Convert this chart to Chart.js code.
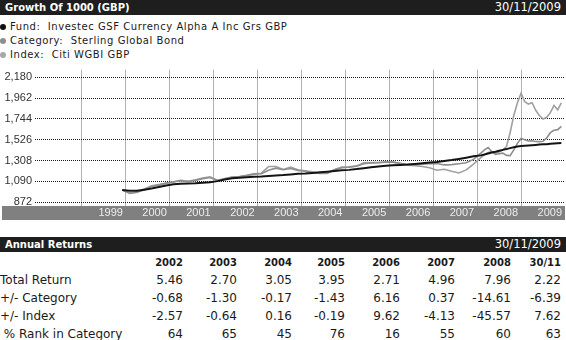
<!DOCTYPE html>
<html>
<head>
<meta charset="utf-8">
<script src="https://cdn.jsdelivr.net/npm/chart.js@4.4.0/dist/chart.umd.min.js"></script>
<style>
  html, body { margin: 0; padding: 0; background: #fff; }
  body { width: 566px; height: 340px; position: relative; overflow: hidden;
         font-family: "DejaVu Sans", Verdana, sans-serif; color: #1a1a1a; }
  .bar { position: absolute; left: 0; width: 566px; height: 15px; background: #1e1e1e; color: #fff; }
  .bar .title { position: absolute; left: 5px; top: 0; font-size: 10px; font-weight: bold; line-height: 15px; }
  .bar .date { position: absolute; right: 5px; top: 0; font-size: 11.5px; line-height: 15px; }
  .legend div { position: absolute; left: 10px; font-size: 10px; line-height: 14px; letter-spacing: 0.55px; white-space: pre; }
  .legend span { position: absolute; left: -10px; top: 4px; width: 6px; height: 6px; border-radius: 50%; }
  #growthChart { position: absolute; left: 0; top: 60px; }
  #returns { position: absolute; left: 0; top: 255px; border-collapse: collapse; table-layout: fixed; }
  #returns td, #returns th { padding: 0; text-align: right; white-space: pre; }
  #returns th { font-size: 10px; font-weight: bold; line-height: 16px; color: #1a1a1a; }
  #returns td { font-size: 12px; line-height: 18px; }
  #returns td.label { text-align: left; }
</style>
</head>
<body>
<div class="bar" style="top:0"><span class="title">Growth Of 1000 (GBP)</span><span class="date">30/11/2009</span></div>
<div class="legend">
  <div style="top:20px"><span style="background:#111"></span>Fund:  Investec GSF Currency Alpha A Inc Grs GBP</div>
  <div style="top:34px"><span style="background:#8e8e8e"></span>Category:  Sterling Global Bond</div>
  <div style="top:47.5px"><span style="background:#a8a8a8"></span>Index:  Citi WGBI GBP</div>
</div>
<canvas id="growthChart" width="566" height="162"></canvas>
<div class="bar" style="top:237px"><span class="title">Annual Returns</span><span class="date">30/11/2009</span></div>
<table id="returns">
  <colgroup>
    <col style="width:129px"><col style="width:54px"><col style="width:54px"><col style="width:55px">
    <col style="width:53px"><col style="width:55px"><col style="width:55px"><col style="width:56px"><col style="width:50px">
  </colgroup>
  <thead></thead>
  <tbody></tbody>
</table>
<script>
// month-end dates of the growth series
const dates = [
  '1999-11',
  '2000-01', '2000-03', '2000-05', '2000-07', '2000-09', '2000-11',
  '2001-01', '2001-03', '2001-05', '2001-07', '2001-09', '2001-11',
  '2002-01', '2002-03', '2002-05', '2002-07', '2002-09', '2002-11',
  '2003-01', '2003-03', '2003-05', '2003-07', '2003-09', '2003-11',
  '2004-01', '2004-03', '2004-05', '2004-07', '2004-09', '2004-11',
  '2005-01', '2005-03', '2005-05', '2005-07', '2005-09', '2005-11',
  '2006-01', '2006-03', '2006-05', '2006-07', '2006-09', '2006-11',
  '2007-01', '2007-03', '2007-05', '2007-07', '2007-09', '2007-11',
  '2008-01', '2008-02', '2008-03', '2008-04', '2008-05', '2008-06',
  '2008-07', '2008-08', '2008-09', '2008-10', '2008-11', '2008-12',
  '2009-01', '2009-02', '2009-03', '2009-04', '2009-05', '2009-06',
  '2009-07', '2009-08', '2009-09', '2009-10', '2009-11'
];

const fundValues = [
  1000,
  990, 990, 1002, 1015, 1030, 1045,
  1060, 1064, 1066, 1069, 1074, 1080,
  1092, 1108, 1122, 1128, 1133, 1138,
  1141, 1146, 1150, 1155, 1162, 1170,
  1172, 1178, 1184, 1190, 1197, 1205,
  1210, 1218, 1228, 1237, 1245, 1253,
  1258, 1262, 1266, 1272, 1279, 1287,
  1293, 1303, 1313, 1325, 1338, 1352,
  1362, 1372, 1382, 1392, 1400, 1410,
  1420, 1428, 1438, 1447, 1455, 1460,
  1463, 1466, 1469, 1472, 1475, 1478,
  1480, 1483, 1486, 1489, 1492
];

const categoryValues = [
  1000,
  968, 978, 1000, 1035, 1050, 1072,
  1082, 1098, 1088, 1100, 1118, 1130,
  1102, 1115, 1132, 1138, 1150, 1165,
  1170, 1205, 1228, 1212, 1225, 1205,
  1195, 1180, 1172, 1172, 1208, 1232,
  1238, 1248, 1275, 1282, 1285, 1290,
  1290, 1278, 1265, 1267, 1270, 1275,
  1277, 1262, 1265, 1275, 1285, 1320,
  1386, 1420, 1444, 1400, 1372, 1380,
  1386, 1362, 1360, 1420, 1488, 1539,
  1525, 1513, 1515, 1508, 1506, 1510,
  1545, 1600, 1625, 1632, 1666
];

const indexValues = [
  1000,
  963, 972, 1010, 1042, 1055, 1068,
  1085, 1100, 1090, 1105, 1124, 1136,
  1098, 1118, 1135, 1140, 1152, 1170,
  1175, 1245, 1245, 1215, 1238, 1210,
  1200, 1190, 1175, 1178, 1215, 1240,
  1243, 1252, 1284, 1286, 1288, 1296,
  1294, 1275, 1258, 1255, 1245, 1233,
  1206, 1216, 1195, 1178, 1210, 1270,
  1338, 1370, 1393, 1403, 1385, 1398,
  1420, 1455, 1600, 1780, 1914, 2015,
  1925, 1900, 1914, 1835, 1780, 1744,
  1761, 1810, 1885, 1840, 1914
];

const yTicks = [872, 1090, 1308, 1526, 1744, 1962, 2180];
const yearTicks = [1999, 2000, 2001, 2002, 2003, 2004, 2005, 2006, 2007, 2008, 2009, 2010];
const yearLabels = ['', '1999', '2000', '2001', '2002', '2003', '2004', '2005', '2006', '2007', '2008', '2009'];

// annual returns table
const returnYears = ['2002', '2003', '2004', '2005', '2006', '2007', '2008', '30/11'];
const totalReturn = ['5.46', '2.70', '3.05', '3.95', '2.71', '4.96', '7.96', '2.22'];
const vsCategory = ['-0.68', '-1.30', '-0.17', '-1.43', '6.16', '0.37', '-14.61', '-6.39'];
const vsIndex = ['-2.57', '-0.64', '0.16', '-0.19', '9.62', '-4.13', '-45.57', '7.62'];
const rankInCategory = ['64', '65', '45', '76', '16', '55', '60', '63'];

function toYear(s) {
  return Number(s.slice(0, 4)) + Number(s.slice(5, 7)) / 12;
}

function toPoints(values) {
  return values.map((v, i) => ({ x: toYear(dates[i]), y: v }));
}

// grey strip under the plot that carries the year labels
const bandPlugin = {
  id: 'yearBand',
  beforeDraw(chart) {
    const { ctx, chartArea } = chart;
    ctx.save();
    ctx.fillStyle = '#808080';
    ctx.fillRect(2, chartArea.bottom, chartArea.right - 2, 14);
    ctx.restore();
  }
};

const ctx = document.getElementById('growthChart').getContext('2d');
new Chart(ctx, {
  type: 'line',
  data: {
    datasets: [
      { label: 'Fund', data: toPoints(fundValues), borderColor: '#141414', borderWidth: 2 },
      { label: 'Category', data: toPoints(categoryValues), borderColor: '#8e8e8e', borderWidth: 1.6 },
      { label: 'Index', data: toPoints(indexValues), borderColor: '#a0a0a0', borderWidth: 1.6 }
    ]
  },
  options: {
    responsive: false,
    devicePixelRatio: 1,
    animation: false,
    events: [],
    layout: { padding: { top: 6, right: 1, bottom: 2, left: 0 } },
    elements: { point: { radius: 0 }, line: { tension: 0 } },
    plugins: { legend: { display: false }, tooltip: { enabled: false } },
    scales: {
      x: {
        type: 'linear',
        min: 1997.93,
        max: 2010,
        afterBuildTicks: (scale) => { scale.ticks = yearTicks.map(v => ({ value: v })); },
        afterFit: (scale) => { scale.height = 14; },
        grid: {
          color: (c) => c.tick && c.tick.value === 2010 ? 'rgba(0,0,0,0)' : '#b2b2b2',
          lineWidth: 1,
          drawTicks: false
        },
        border: { display: false },
        ticks: {
          autoSkip: false,
          maxRotation: 0,
          align: 'end',
          labelOffset: -3,
          padding: 0,
          color: '#ececec',
          font: { family: '"Liberation Sans", Arial, sans-serif', size: 11 },
          callback: (value) => yearLabels[yearTicks.indexOf(value)]
        }
      },
      y: {
        min: 831,
        max: 2262,
        afterBuildTicks: (scale) => { scale.ticks = yTicks.map(v => ({ value: v })); },
        afterFit: (scale) => { scale.width = 35; },
        grid: { color: '#1a1a1a', lineWidth: 1, drawTicks: false },
        border: { display: false, dash: [1, 1] },
        ticks: {
          padding: 3,
          color: '#333',
          font: { family: '"Liberation Sans", Arial, sans-serif', size: 11 },
          callback: (value) => value.toLocaleString('en-US')
        }
      }
    }
  },
  plugins: [bandPlugin]
});

// build the annual returns table
const thead = document.querySelector('#returns thead');
const tbody = document.querySelector('#returns tbody');
let head = '<tr><th></th>';
returnYears.forEach(y => { head += '<th>' + y + '</th>'; });
thead.innerHTML = head + '</tr>';

const rows = [
  ['Total Return', totalReturn],
  ['+/- Category', vsCategory],
  ['+/- Index', vsIndex],
  [' % Rank in Category', rankInCategory]
];
rows.forEach(([name, vals]) => {
  let tr = '<tr><td class="label">' + name + '</td>';
  vals.forEach(v => { tr += '<td>' + v + '</td>'; });
  tbody.insertAdjacentHTML('beforeend', tr + '</tr>');
});
</script>
</body>
</html>
